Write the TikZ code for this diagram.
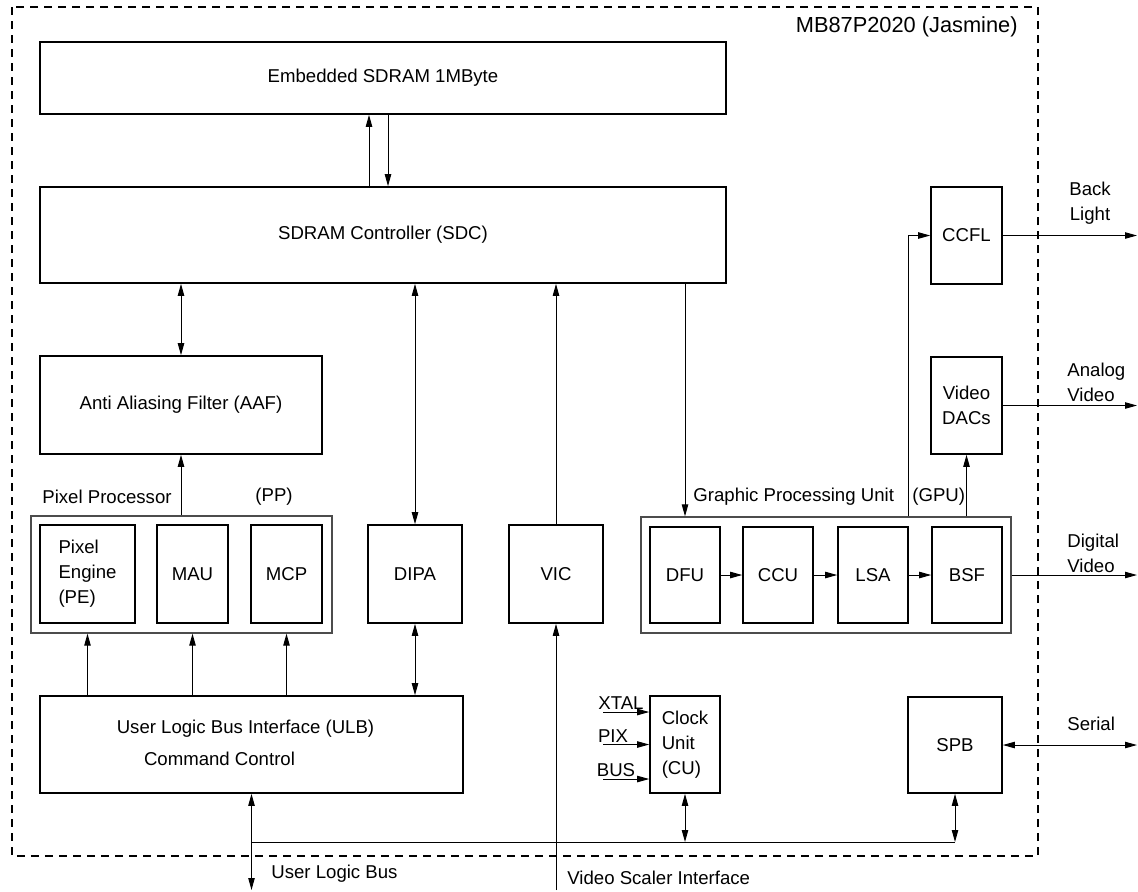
\documentclass[tikz,border=0pt]{standalone}
\usepackage{fontspec}
\setmainfont{Liberation Sans}
\usetikzlibrary{arrows.meta}

\begin{document}
\begin{tikzpicture}[x=0.5pt,y=-0.5pt,>={Triangle[length=6pt,width=3.2pt]},
  every node/.style={font=\fontsize{9.3}{12.5}\selectfont,inner sep=0pt},
  blk/.style={draw,line width=0.8pt,align=center},
  grp/.style={draw=black!70,line width=0.6pt},
  wire/.style={line width=0.5pt},
  txt/.style={anchor=west}]
\useasboundingbox (0,0) rectangle (1138,891);
\draw[line width=0.6pt,dash pattern=on 4pt off 3pt] (12,7) rectangle (1038,856);
\node[anchor=east,font=\fontsize{10.9}{13}\selectfont] (title) at (1018,27) {MB87P2020 (Jasmine)};
% memory side
\node[blk,minimum width=343pt,minimum height=36pt] (sdram) at (383,78) {Embedded SDRAM 1MByte};
\node[blk,minimum width=343pt,minimum height=48pt] (sdc) at (383,235) {SDRAM Controller (SDC)};
\node[blk,minimum width=141pt,minimum height=49pt] (aaf) at (181,405) {Anti Aliasing Filter (AAF)};
% pixel processor
\node[grp,minimum width=150.5pt,minimum height=58.5pt] (pp) at (181.5,574.5) {};
\node[blk,align=left,minimum width=47.5pt,minimum height=49pt] (pe) at (87.5,574) {Pixel\\Engine\\(PE)};
\node[blk,minimum width=35.5pt,minimum height=49pt] (mau) at (192.5,574) {MAU};
\node[blk,minimum width=35.5pt,minimum height=49pt] (mcp) at (286.5,574) {MCP};
\node[txt] (pplbl) at (42,497) {Pixel Processor};
\node[txt] (ppabbr) at (255,497) {(PP)};
\node[blk,minimum width=47pt,minimum height=49pt] (dipa) at (415,574) {DIPA};
\node[blk,minimum width=47pt,minimum height=49pt] (vic) at (556,574) {VIC};
% graphic processing unit
\node[grp,minimum width=185pt,minimum height=58pt] (gpu) at (826,575) {};
\node[blk,minimum width=35pt,minimum height=48pt] (dfu) at (685,575) {DFU};
\node[blk,minimum width=35pt,minimum height=48pt] (ccu) at (778,575) {CCU};
\node[blk,minimum width=35pt,minimum height=48pt] (lsa) at (873,575) {LSA};
\node[blk,minimum width=35pt,minimum height=48pt] (bsf) at (967,575) {BSF};
\node[txt] (gpulbl) at (693,497) {Graphic Processing Unit};
\node[txt] (gpuabbr) at (912,497) {(GPU)};
\node[blk,minimum width=35.5pt,minimum height=48.5pt] (ccfl) at (966.5,235.5) {CCFL};
\node[blk,minimum width=35.5pt,minimum height=48.5pt] (dacs) at (966.5,405.5) {Video\\DACs};
% interfaces
\node[blk,minimum width=211.5pt,minimum height=48.5pt] (ulb) at (251.5,744.5) {};
\node (ulbA) at (245.5,729) {User Logic Bus Interface (ULB)};
\node (ulbB) at (219.5,759) {Command Control};
\node[blk,align=left,minimum width=35pt,minimum height=48.5pt] (cu) at (685,744.5) {Clock\\Unit\\(CU)};
\node[blk,minimum width=47pt,minimum height=48pt] (spb) at (955,745) {SPB};
% outside labels
\node[align=center] (bl) at (1090,203) {Back\\Light};
\node[txt,align=left] (av) at (1067,382) {Analog\\Video};
\node[txt,align=left] (dv) at (1067,553) {Digital\\Video};
\node[txt] (ser) at (1067,724) {Serial};
\node[txt] (ulbus) at (271,874) {User Logic Bus};
\node[txt] (vsi) at (567,878) {Video Scaler Interface};
\coordinate (edge) at (1137,0);
\coordinate (bottom) at (0,890);
\coordinate (bus) at (0,842);
\coordinate (xtal) at (603,712);
\coordinate (pix) at (603,744.5);
\coordinate (busin) at (603,779);
\node[anchor=south,inner sep=1pt] (xtallbl) at (621,712) {XTAL};
\node[anchor=south,inner sep=1pt] (pixlbl) at (613,744.5) {PIX};
\node[anchor=south,inner sep=1pt] (buslbl) at (616,779) {BUS};
% connectors
\draw[wire,->] ([xshift=-7pt]sdc.north) -- ([xshift=-7pt]sdram.south);
\draw[wire,->] ([xshift=2.5pt]sdram.south) -- ([xshift=2.5pt]sdc.north);
\draw[wire,<->] (sdc.south -| aaf) -- (aaf.north);
\draw[wire,->] (pp.north -| aaf) -- (aaf.south);
\draw[wire,<->] (sdc.south -| dipa) -- (dipa.north);
\draw[wire,->] (vic.north) -- (vic.north |- sdc.south);
\draw[wire,->] (sdc.south -| dfu) -- (gpu.north -| dfu);
\draw[wire,->] (dfu.east) -- (ccu.west);
\draw[wire,->] (ccu.east) -- (lsa.west);
\draw[wire,->] (lsa.east) -- (bsf.west);
\draw[wire,->] (gpu.north -| lsa.east) |- (ccfl.west);
\draw[wire,->] (gpu.north -| dacs) -- (dacs.south);
\draw[wire,->] (ccfl.east) -- (ccfl.east -| edge);
\draw[wire,->] (dacs.east) -- (dacs.east -| edge);
\draw[wire,->] (gpu.east) -- (gpu.east -| edge);
\draw[wire,<->] (spb.east) -- (spb.east -| edge);
\foreach \n in {pe,mau,mcp}
  \draw[wire,->] (ulb.north -| \n) -- (pp.south -| \n);
\draw[wire,<->] (ulb.north -| dipa) -- (dipa.south);
\draw[wire,->] (vic.south |- bottom) -- (vic.south);
\draw[wire,<->] (ulb.south) -- (ulb.south |- bottom);
\draw[wire] (ulb.south |- bus) -- (spb.south |- bus);
\draw[wire,<->] (cu.south) -- (cu.south |- bus);
\draw[wire,<->] (spb.south) -- (spb.south |- bus);
\foreach \c in {xtal,pix,busin}
  \draw[wire,->] (\c) -- (\c -| cu.west);
\end{tikzpicture}
\end{document}
